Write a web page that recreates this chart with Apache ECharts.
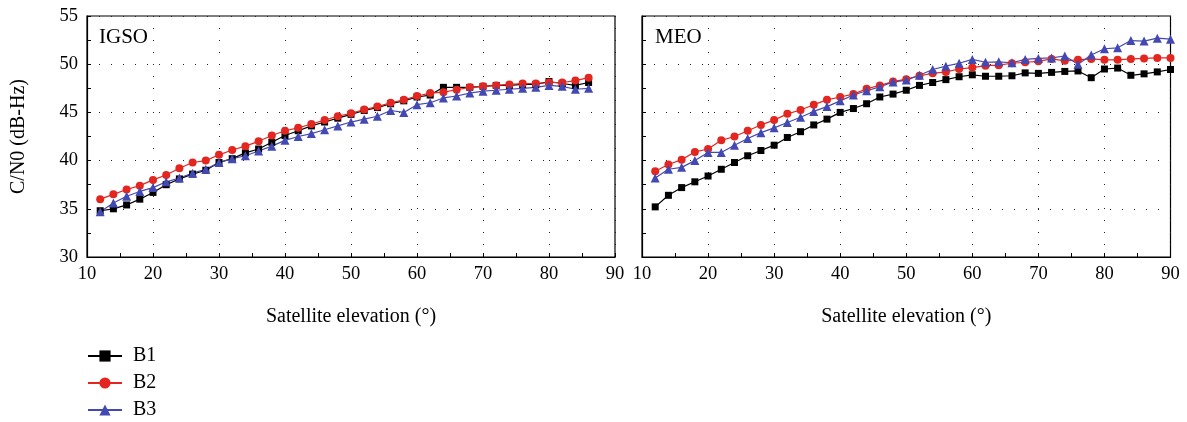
<!DOCTYPE html>
<html>
<head>
<meta charset="utf-8">
<title>C/N0 vs elevation</title>
<script src="https://cdn.jsdelivr.net/npm/echarts@6/dist/echarts.min.js"></script>
<style>
  html, body { margin: 0; padding: 0; background: #fff; }
  #main { width: 1187px; height: 422px; }
</style>
</head>
<body>
<div id="main"></div>
<script>
// elevation (deg)
const elevIGSO = [12, 14, 16, 18, 20, 22, 24, 26, 28, 30, 32, 34, 36, 38, 40, 42, 44, 46, 48, 50,
  52, 54, 56, 58, 60, 62, 64, 66, 68, 70, 72, 74, 76, 78, 80, 82, 84, 86];
const elevMEO = [12, 14, 16, 18, 20, 22, 24, 26, 28, 30, 32, 34, 36, 38, 40, 42, 44, 46, 48, 50,
  52, 54, 56, 58, 60, 62, 64, 66, 68, 70, 72, 74, 76, 78, 80, 82, 84, 86, 88, 90];

// C/N0 (dB-Hz), IGSO
const igsoB1 = [34.8, 35.0, 35.4, 36.0, 36.7, 37.5, 38.1, 38.6, 39.0, 39.8,
  40.2, 40.8, 41.2, 41.9, 42.6, 43.1, 43.6, 44.0, 44.4, 44.8,
  45.2, 45.5, 45.9, 46.2, 46.6, 46.8, 47.6, 47.6, 47.6, 47.7,
  47.8, 47.8, 47.9, 47.9, 48.2, 48.0, 47.8, 48.1];
const igsoB2 = [36.0, 36.5, 37.0, 37.4, 38.0, 38.5, 39.2, 39.8, 40.0, 40.6,
  41.1, 41.5, 42.0, 42.6, 43.1, 43.4, 43.8, 44.2, 44.6, 44.9,
  45.3, 45.6, 46.0, 46.3, 46.7, 47.0, 47.1, 47.35, 47.6, 47.7,
  47.8, 47.9, 48.0, 48.0, 48.1, 48.1, 48.3, 48.6];
const igsoB3 = [34.7, 35.6, 36.3, 36.8, 37.2, 37.8, 38.2, 38.7, 39.1, 39.8,
  40.2, 40.5, 41.0, 41.5, 42.1, 42.5, 42.8, 43.2, 43.6, 44.0,
  44.3, 44.6, 45.2, 45.0, 45.8, 46.0, 46.5, 46.7, 47.0, 47.2,
  47.3, 47.4, 47.5, 47.6, 47.8, 47.7, 47.4, 47.5];

// C/N0 (dB-Hz), MEO
const meoB1 = [35.2, 36.4, 37.2, 37.8, 38.4, 39.1, 39.8, 40.5, 41.05, 41.6,
  42.4, 43.0, 43.7, 44.3, 45.0, 45.4, 45.9, 46.6, 46.9, 47.3,
  47.8, 48.1, 48.4, 48.7, 48.9, 48.75, 48.75, 48.8, 49.1, 49.05,
  49.15, 49.25, 49.3, 48.6, 49.5, 49.6, 48.85, 49.0, 49.2, 49.45];
const meoB2 = [38.9, 39.6, 40.1, 40.9, 41.2, 42.1, 42.5, 43.1, 43.7, 44.2,
  44.85, 45.25, 45.8, 46.3, 46.6, 46.9, 47.45, 47.8, 48.2, 48.45,
  48.8, 49.05, 49.2, 49.5, 49.65, 49.85, 49.9, 50.1, 50.2, 50.3,
  50.55, 50.35, 50.45, 50.55, 50.45, 50.45, 50.55, 50.6, 50.65, 50.65];
const meoB3 = [38.2, 39.1, 39.3, 40.0, 40.85, 40.85, 41.6, 42.3, 42.9, 43.4,
  43.95, 44.5, 45.1, 45.6, 46.2, 46.8, 47.25, 47.65, 48.15, 48.35,
  48.85, 49.45, 49.8, 50.1, 50.5, 50.2, 50.25, 50.15, 50.5, 50.6,
  50.65, 50.85, 50.0, 50.95, 51.6, 51.7, 52.45, 52.4, 52.7, 52.6];

const bands = ['B1', 'B2', 'B3'];
const colors = ['#000000', '#e3261f', '#4349b3'];
const symbols = ['rect', 'circle', 'triangle'];
const symbolSizes = [7, 8, 9];

const font = 'Liberation Serif';

const chart = echarts.init(document.getElementById('main'));

function pairs(xs, ys) {
  return xs.map((x, i) => [x, ys[i]]);
}

function xAxisCfg(gridIndex) {
  return {
    type: 'value',
    gridIndex: gridIndex,
    min: 10,
    max: 90,
    interval: 10,
    name: 'Satellite elevation (°)',
    nameLocation: 'middle',
    nameGap: 50,
    nameTextStyle: { fontFamily: font, fontSize: 20, color: '#000' },
    axisLine: { lineStyle: { color: '#000', width: 1.2 } },
    axisTick: { inside: true, length: 4, lineStyle: { color: '#000' } },
    minorTick: { show: true, splitNumber: 2, length: 4, lineStyle: { color: '#000' } },
    axisLabel: { fontFamily: font, fontSize: 18.5, color: '#000', margin: 8 },
    splitLine: { show: true, lineStyle: { color: '#222', type: [1, 11], width: 1 } }
  };
}

function yAxisCfg(gridIndex, showLabel) {
  return {
    type: 'value',
    gridIndex: gridIndex,
    min: 30,
    max: 55,
    interval: 5,
    name: showLabel ? 'C/N0 (dB-Hz)' : '',
    nameLocation: 'middle',
    nameGap: 58,
    nameTextStyle: { fontFamily: font, fontSize: 20, color: '#000' },
    axisLine: { show: true, lineStyle: { color: '#000', width: 1.2 } },
    axisTick: { inside: true, length: 4, lineStyle: { color: '#000' } },
    minorTick: { show: true, splitNumber: 2, length: 4, lineStyle: { color: '#000' } },
    axisLabel: { show: showLabel, fontFamily: font, fontSize: 18.5, color: '#000', margin: 9 },
    splitLine: { show: true, lineStyle: { color: '#222', type: [1, 11], width: 1 } }
  };
}

const series = [];
[[igsoB1, igsoB2, igsoB3], [meoB1, meoB2, meoB3]].forEach((group, g) => {
  const xs = g === 0 ? elevIGSO : elevMEO;
  group.forEach((ys, i) => {
    series.push({
      name: bands[i],
      type: 'line',
      xAxisIndex: g,
      yAxisIndex: g,
      data: pairs(xs, ys),
      symbol: symbols[i],
      symbolSize: symbolSizes[i],
      showSymbol: true,
      animation: false,
      lineStyle: { color: colors[i], width: 1.2 },
      itemStyle: { color: colors[i] }
    });
  });
});

const titleStyle = { fontFamily: font, fontSize: 21, fontWeight: 'normal', color: '#000' };

const option = {
  backgroundColor: '#fff',
  animation: false,
  title: [
    { text: 'IGSO', left: 99, top: 27, padding: 0, textStyle: titleStyle },
    { text: 'MEO', left: 655, top: 27, padding: 0, textStyle: titleStyle }
  ],
  legend: {
    data: bands,
    orient: 'vertical',
    left: 87,
    top: 346,
    padding: 0,
    itemWidth: 34,
    itemHeight: 14,
    itemGap: 7,
    textStyle: { fontFamily: font, fontSize: 20, color: '#000', padding: [0, 0, 0, 6] }
  },
  grid: [
    { left: 87, right: 572, top: 16, bottom: 165, show: true, borderColor: '#000', borderWidth: 1.2, backgroundColor: 'transparent' },
    { left: 642, right: 16.5, top: 16, bottom: 165, show: true, borderColor: '#000', borderWidth: 1.2, backgroundColor: 'transparent' }
  ],
  xAxis: [xAxisCfg(0), xAxisCfg(1)],
  yAxis: [yAxisCfg(0, true), yAxisCfg(1, false)],
  series: series
};

chart.setOption(option);
</script>
</body>
</html>
